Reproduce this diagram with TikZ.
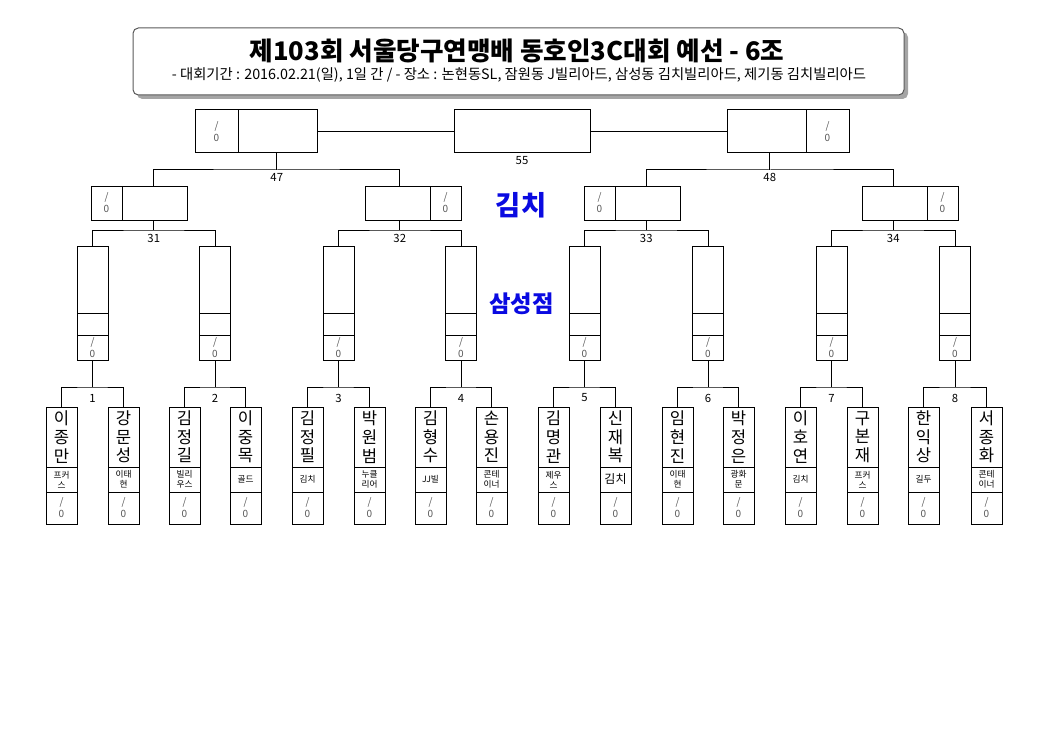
\documentclass[tikz,border=0pt]{standalone}
\usepackage{fontspec}
\setmainfont{Noto Sans CJK KR}
\usepackage{xcolor}
\usepackage{tikz}
\usetikzlibrary{positioning}

\begin{document}
\begin{tikzpicture}[x=0.75pt,y=0.75pt,yscale=-1,xscale=1,line width=0.75pt,
	cell/.style={draw, rectangle, inner sep=0pt, outer sep=0pt, anchor=north west, align=center},
	namecell/.style={cell, minimum width=23.25pt, minimum height=45pt, font=\fontsize{12.5}{14}\selectfont},
	clubcell/.style={cell, minimum width=23.25pt, minimum height=18.75pt, font=\fontsize{6.5}{7.6}\selectfont},
	ptcell/.style={cell, minimum width=23.25pt, minimum height=24pt, text={rgb, 255:red, 85; green, 85; blue, 85 }, font=\fontsize{7.5}{9}\selectfont},
	mtop/.style={cell, minimum width=23.25pt, minimum height=50.25pt},
	mmid/.style={cell, minimum width=23.25pt, minimum height=16.5pt},
	mpt/.style={ptcell, minimum height=18.75pt},
	qpt/.style={ptcell, minimum height=25.5pt},
	qname/.style={cell, minimum width=48.75pt, minimum height=25.5pt},
	fpt/.style={ptcell, minimum width=32.25pt, minimum height=32.25pt},
	fname/.style={cell, minimum width=59.25pt, minimum height=32.25pt},
	numlabel/.style={inner sep=0.75pt, font=\fontsize{8.5}{10}\selectfont},
	bluelabel/.style={inner sep=0.75pt, color={rgb, 255:red, 10; green, 10; blue, 225 }}]

	\useasboundingbox (0,0) rectangle (1045,731);

	%Shape: Title box with shadow
	\node [cell, draw=none, rounded corners=4pt, fill={rgb, 255:red, 165; green, 165; blue, 165 }, minimum width=578.25pt, minimum height=50.25pt] (tshadow) at (137,32) {};
	\node [cell, rounded corners=4pt, draw={rgb, 255:red, 90; green, 90; blue, 90 }, fill=white, minimum width=578.25pt, minimum height=50.25pt] (tbox) at (133,28) {};
	% Text Node
	\node [inner sep=0.75pt, font=\fontsize{19.2}{22}\selectfont\bfseries] (ttl) at (517,51) {제103회 서울당구연맹배 동호인3C대회 예선 - 6조};
	% Text Node
	\node [inner sep=0.75pt, font=\fontsize{10.75}{12}\selectfont] (sub) at (519,75) {-  대회기간 : 2016.02.21(일), 1일 간 / - 장소 : 논현동SL, 잠원동 J빌리아드, 삼성동 김치빌리아드, 제기동 김치빌리아드};

	%Shape: Final row
	\node [fpt] (fs47) at (195,110) {/\\0};
	\node [fname, right=0pt of fs47] (f47) {};
	\node [cell, minimum width=102pt, minimum height=32.25pt] (f55) at (454,110) {};
	\node [fname] (f48) at (727,110) {};
	\node [fpt, right=0pt of f48] (fs48) {/\\0};
	\draw (f47.east) -- (f55.west);
	\draw (f55.east) -- (f48.west);
	\node [numlabel] (n55) at (522,161) {55};

	%Shape: Second row
	\node [qpt] (s31) at (91,186) {/\\0};
	\node [qname, right=0pt of s31] (r31) {};
	\node [qname] (r32) at (365,186) {};
	\node [qpt, right=0pt of r32] (s32) {/\\0};
	\node [qpt] (s33) at (584,186) {/\\0};
	\node [qname, right=0pt of s33] (r33) {};
	\node [qname] (r34) at (862,186) {};
	\node [qpt, right=0pt of r34] (s34) {/\\0};

	%Straight Lines: into the final
	\coordinate (j47) at (276.75,170);
	\coordinate (j48) at (769.75,170);
	\coordinate (j31) at (153.75,230);
	\coordinate (j32) at (399.75,230);
	\coordinate (j33) at (646.25,230);
	\coordinate (j34) at (893.25,230);
	\draw (j31 |- r31.north) |- (j47) -| (j32 |- r32.north);
	\draw (j47) -- (j47 |- f47.south);
	\draw (j33 |- r33.north) |- (j48) -| (j34 |- r34.north);
	\draw (j48) -- (j48 |- f48.south);
	\node [numlabel] (n47) at (276.75,177) {47};
	\node [numlabel] (n48) at (769.75,177) {48};

	%Shape: Third row
	\node [mtop] (m1) at (77,246) {};
	\node [mmid, below=0pt of m1] (mc1) {};
	\node [mpt, below=0pt of mc1] (ms1) {/\\0};
	\node [mtop] (m2) at (199.5,246) {};
	\node [mmid, below=0pt of m2] (mc2) {};
	\node [mpt, below=0pt of mc2] (ms2) {/\\0};
	\node [mtop] (m3) at (323,246) {};
	\node [mmid, below=0pt of m3] (mc3) {};
	\node [mpt, below=0pt of mc3] (ms3) {/\\0};
	\node [mtop] (m4) at (445.5,246) {};
	\node [mmid, below=0pt of m4] (mc4) {};
	\node [mpt, below=0pt of mc4] (ms4) {/\\0};
	\node [mtop] (m5) at (569,246) {};
	\node [mmid, below=0pt of m5] (mc5) {};
	\node [mpt, below=0pt of mc5] (ms5) {/\\0};
	\node [mtop] (m6) at (692.5,246) {};
	\node [mmid, below=0pt of m6] (mc6) {};
	\node [mpt, below=0pt of mc6] (ms6) {/\\0};
	\node [mtop] (m7) at (816,246) {};
	\node [mmid, below=0pt of m7] (mc7) {};
	\node [mpt, below=0pt of mc7] (ms7) {/\\0};
	\node [mtop] (m8) at (939.5,246) {};
	\node [mmid, below=0pt of m8] (mc8) {};
	\node [mpt, below=0pt of mc8] (ms8) {/\\0};

	%Straight Lines: into the second row
	\draw (m1.north) |- (j31) -| (m2.north);
	\draw (j31) -- (j31 |- r31.south);
	\draw (m3.north) |- (j32) -| (m4.north);
	\draw (j32) -- (j32 |- r32.south);
	\draw (m5.north) |- (j33) -| (m6.north);
	\draw (j33) -- (j33 |- r33.south);
	\draw (m7.north) |- (j34) -| (m8.north);
	\draw (j34) -- (j34 |- r34.south);
	\node [numlabel] (n31) at (153.75,238) {31};
	\node [numlabel] (n32) at (399.75,238) {32};
	\node [numlabel] (n33) at (646.25,238) {33};
	\node [numlabel] (n34) at (893.25,238) {34};

	% Text Node
	\node [bluelabel, font=\fontsize{20.5}{24}\selectfont\bfseries] (kimchi) at (521,205) {김치};
	% Text Node
	\node [bluelabel, font=\fontsize{17.5}{20}\selectfont\bfseries] (samsung) at (521.5,304) {삼성점};

	%Shape: Players
	\node [namecell] (p1) at (46,407) {이\\종\\만};
	\node [clubcell, below=0pt of p1] (c1) {프커\\스};
	\node [ptcell, below=0pt of c1] (s1) {/\\0};
	\node [namecell] (p2) at (108,407) {강\\문\\성};
	\node [clubcell, below=0pt of p2] (c2) {이태\\현};
	\node [ptcell, below=0pt of c2] (s2) {/\\0};
	\node [namecell] (p3) at (169,407) {김\\정\\길};
	\node [clubcell, below=0pt of p3] (c3) {빌리\\우스};
	\node [ptcell, below=0pt of c3] (s3) {/\\0};
	\node [namecell] (p4) at (230,407) {이\\중\\목};
	\node [clubcell, below=0pt of p4] (c4) {골드};
	\node [ptcell, below=0pt of c4] (s4) {/\\0};
	\node [namecell] (p5) at (292,407) {김\\정\\필};
	\node [clubcell, below=0pt of p5] (c5) {김치};
	\node [ptcell, below=0pt of c5] (s5) {/\\0};
	\node [namecell] (p6) at (354,407) {박\\원\\범};
	\node [clubcell, below=0pt of p6] (c6) {누클\\리어};
	\node [ptcell, below=0pt of c6] (s6) {/\\0};
	\node [namecell] (p7) at (415,407) {김\\형\\수};
	\node [clubcell, below=0pt of p7] (c7) {JJ빌};
	\node [ptcell, below=0pt of c7] (s7) {/\\0};
	\node [namecell] (p8) at (476,407) {손\\용\\진};
	\node [clubcell, below=0pt of p8] (c8) {콘테\\이너};
	\node [ptcell, below=0pt of c8] (s8) {/\\0};
	\node [namecell] (p9) at (538,407) {김\\명\\관};
	\node [clubcell, below=0pt of p9] (c9) {제우\\스};
	\node [ptcell, below=0pt of c9] (s9) {/\\0};
	\node [namecell] (p10) at (600,407) {신\\재\\복};
	\node [clubcell, below=0pt of p10, font=\fontsize{9}{10}\selectfont] (c10) {김치};
	\node [ptcell, below=0pt of c10] (s10) {/\\0};
	\node [namecell] (p11) at (662,407) {임\\현\\진};
	\node [clubcell, below=0pt of p11] (c11) {이태\\현};
	\node [ptcell, below=0pt of c11] (s11) {/\\0};
	\node [namecell] (p12) at (723,407) {박\\정\\은};
	\node [clubcell, below=0pt of p12] (c12) {광화\\문};
	\node [ptcell, below=0pt of c12] (s12) {/\\0};
	\node [namecell] (p13) at (785,407) {이\\호\\연};
	\node [clubcell, below=0pt of p13] (c13) {김치};
	\node [ptcell, below=0pt of c13] (s13) {/\\0};
	\node [namecell] (p14) at (847,407) {구\\본\\재};
	\node [clubcell, below=0pt of p14] (c14) {프커\\스};
	\node [ptcell, below=0pt of c14] (s14) {/\\0};
	\node [namecell] (p15) at (908,407) {한\\익\\상};
	\node [clubcell, below=0pt of p15] (c15) {길두};
	\node [ptcell, below=0pt of c15] (s15) {/\\0};
	\node [namecell] (p16) at (971,407) {서\\종\\화};
	\node [clubcell, below=0pt of p16] (c16) {콘테\\이너};
	\node [ptcell, below=0pt of c16] (s16) {/\\0};

	%Straight Lines: into the third row
	\coordinate (j1) at (92.5,387);
	\coordinate (j2) at (215,387);
	\coordinate (j3) at (338.5,387);
	\coordinate (j4) at (461,387);
	\coordinate (j5) at (584.5,387);
	\coordinate (j6) at (708,387);
	\coordinate (j7) at (831.5,387);
	\coordinate (j8) at (955,387);
	\draw (p1.north) |- (j1) -| (p2.north);
	\draw (j1) -- (ms1.south);
	\draw (p3.north) |- (j2) -| (p4.north);
	\draw (j2) -- (ms2.south);
	\draw (p5.north) |- (j3) -| (p6.north);
	\draw (j3) -- (ms3.south);
	\draw (p7.north) |- (j4) -| (p8.north);
	\draw (j4) -- (ms4.south);
	\draw (p9.north) |- (j5) -| (p10.north);
	\draw (j5) -- (ms5.south);
	\draw (p11.north) |- (j6) -| (p12.north);
	\draw (j6) -- (ms6.south);
	\draw (p13.north) |- (j7) -| (p14.north);
	\draw (j7) -- (ms7.south);
	\draw (p15.north) |- (j8) -| (p16.north);
	\draw (j8) -- (ms8.south);
	\node [numlabel] (n1) at (92.5,398) {1};
	\node [numlabel] (n2) at (215,398) {2};
	\node [numlabel] (n3) at (338.5,398) {3};
	\node [numlabel] (n4) at (461,398) {4};
	\node [numlabel] (n5) at (584.5,398) {5};
	\node [numlabel] (n6) at (708,398) {6};
	\node [numlabel] (n7) at (831.5,398) {7};
	\node [numlabel] (n8) at (955,398) {8};
\end{tikzpicture}
\end{document}
